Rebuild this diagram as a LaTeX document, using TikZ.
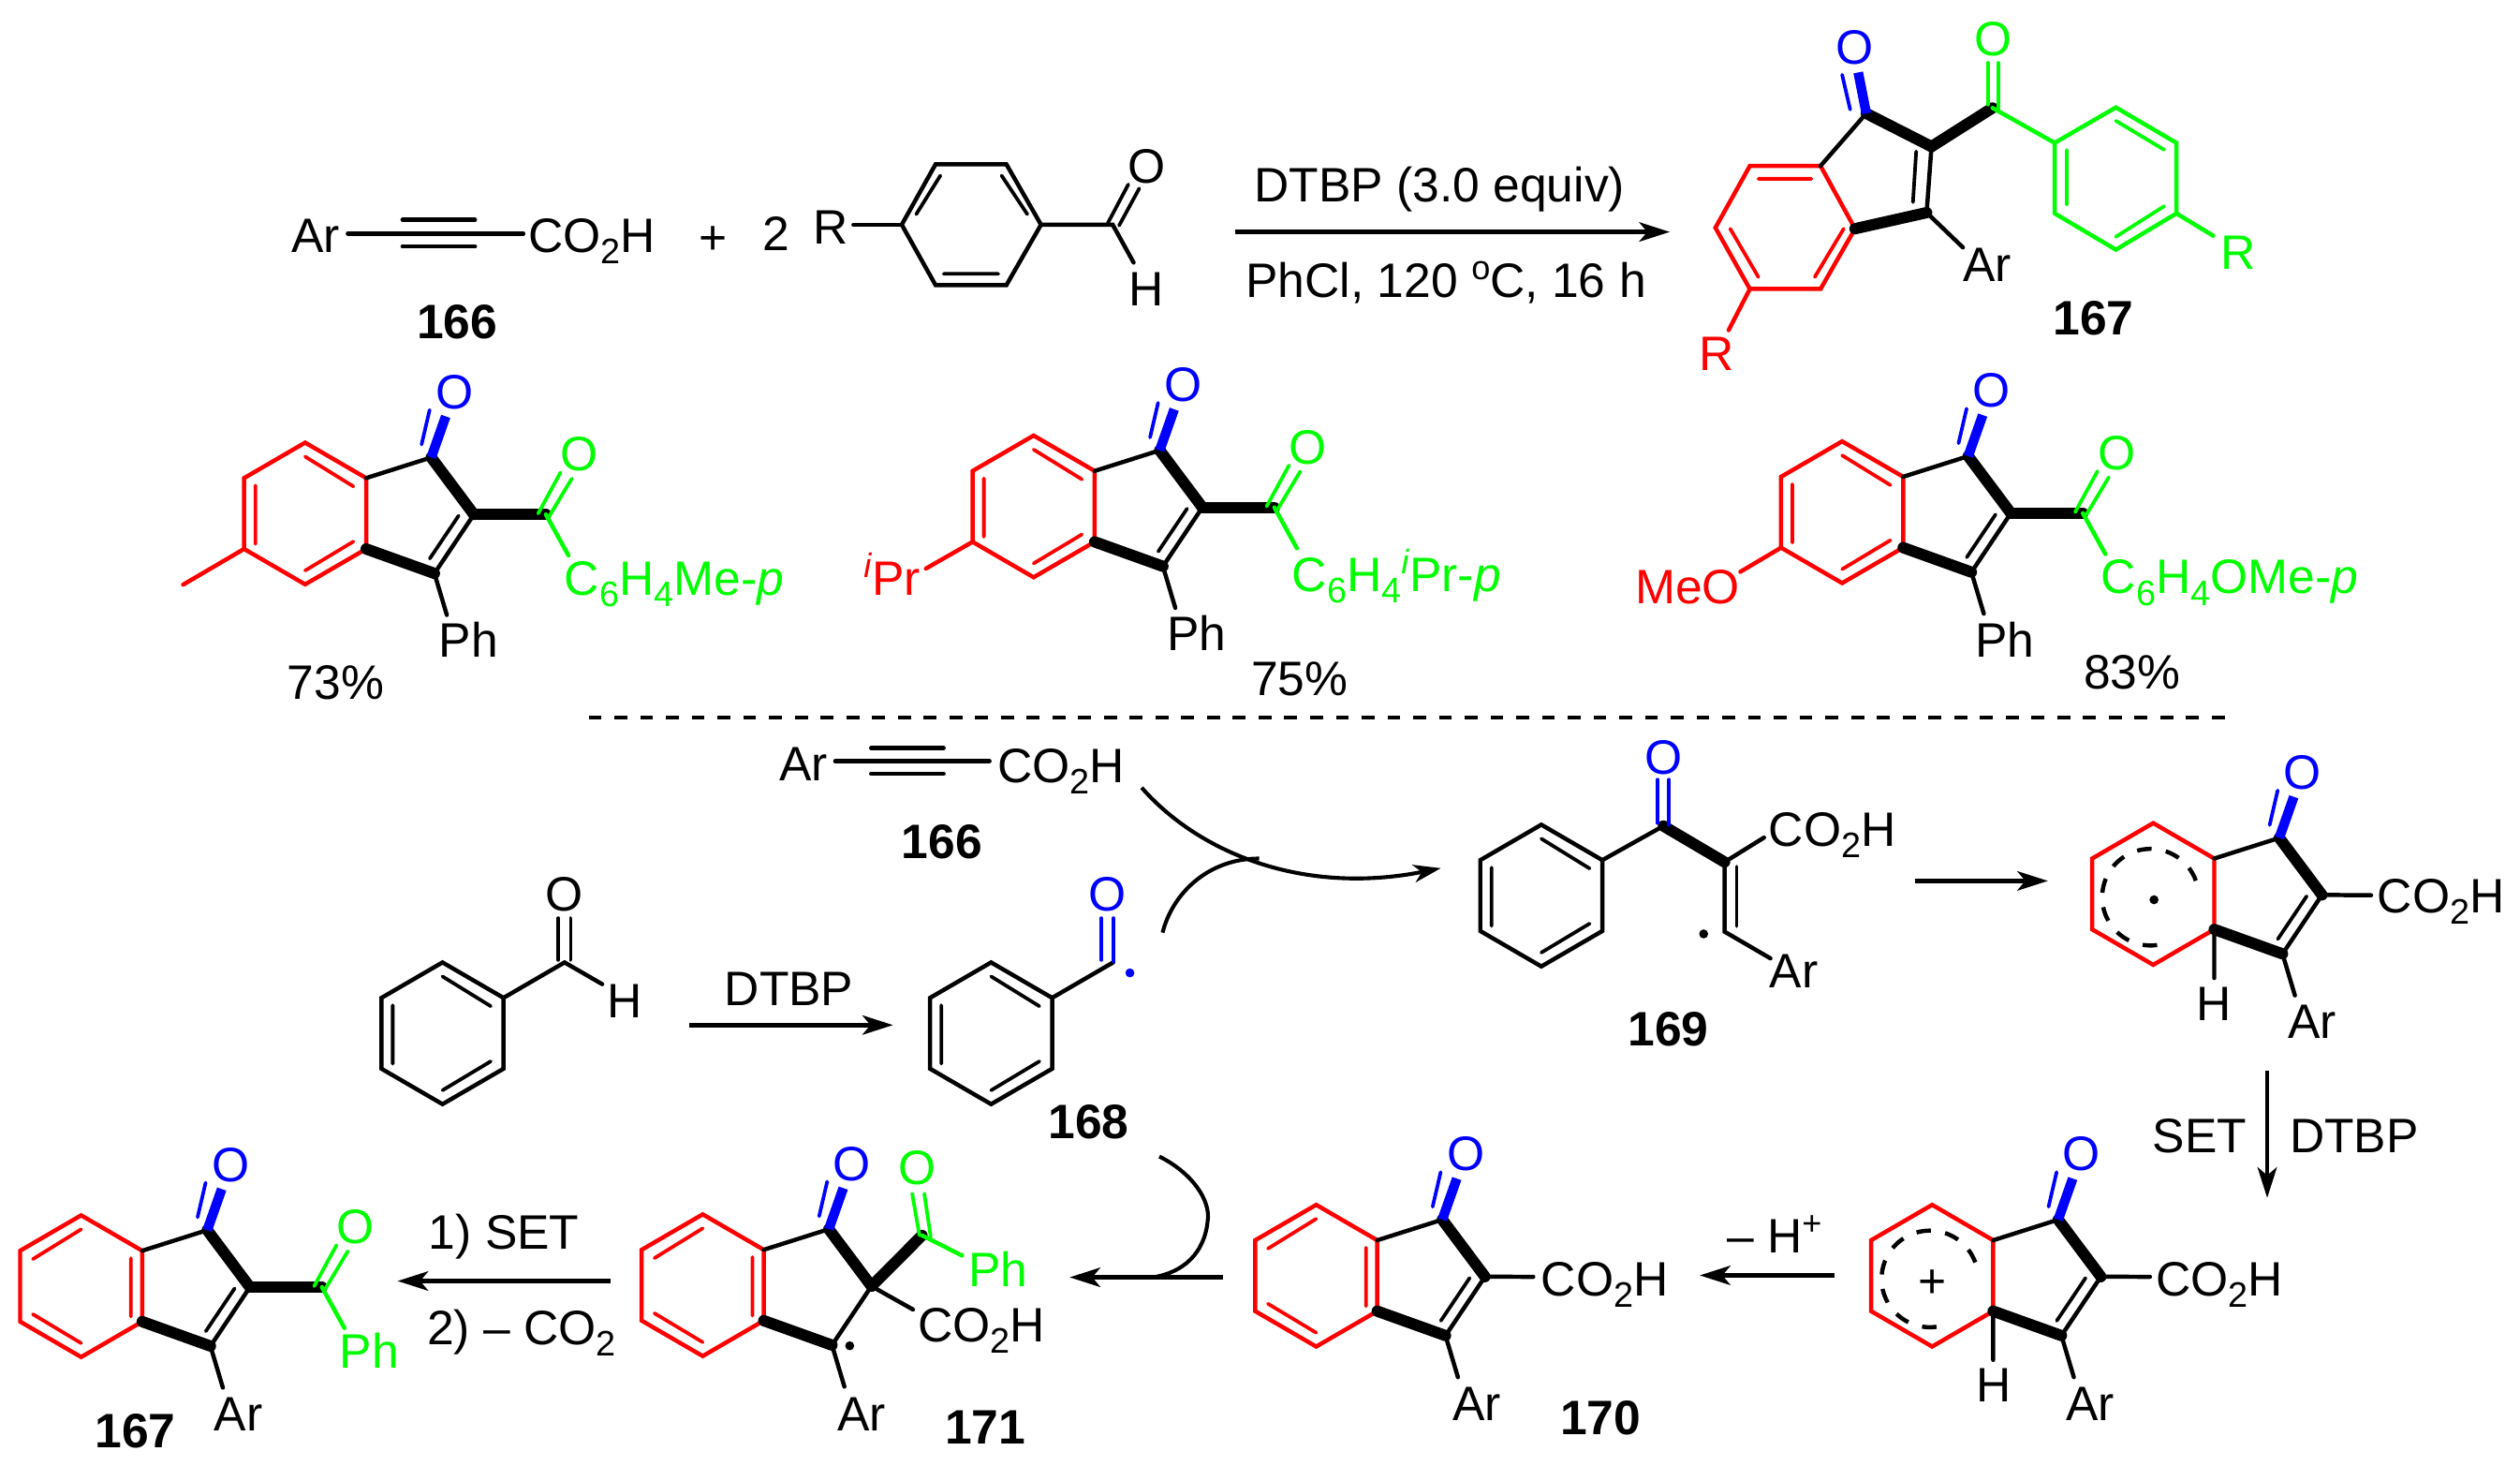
\documentclass[tikz,border=0pt]{standalone}
\usepackage{fontspec}
\setmainfont{Liberation Sans}
\usetikzlibrary{arrows.meta}
\definecolor{chemred}{RGB}{255,0,0}
\definecolor{chemblue}{RGB}{0,0,255}
\definecolor{chemgreen}{RGB}{0,255,0}
\newcommand\lowr[1]{\raisebox{-7pt}{\fontsize{22}{22}\selectfont #1}}
\newcommand\upr[1]{\raisebox{11pt}{\fontsize{21}{21}\selectfont #1}}
\tikzset{
 bd/.style={line width=2.6pt,line cap=round,line join=miter},
 thin bd/.style={bd,line width=2.2pt},
 hv/.style={line width=7pt,line cap=round},
 hvblue/.style={line width=6pt,chemblue},
 rxn/.style={line width=2.6pt,-{Stealth[length=19pt,width=12pt,inset=5pt]}},
 curv/.style={line width=2.4pt},
 lab/.style={inner sep=0pt,outer sep=0pt,anchor=base,font=\fontsize{30}{36}\selectfont},
 labl/.style={lab,anchor=base west},
 cnum/.style={lab,font=\fontsize{30}{36}\selectfont\bfseries},
 dashring/.style={line width=2.6pt,dash pattern=on 9pt off 9pt},
}
% label with centre of capitals at (x,y)
\newcommand\lab[5][]{\node[lab,#1] (#2) at (#3,#4+10.7) {#5};}
\newcommand\labw[5][]{\node[labl,#1] (#2) at (#3,#4+10.7) {#5};}
% hexagon, top vertex at (x,y)
\newcommand\hexring[4]{%
 \begin{scope}[shift={(#2,#3)}]
 \coordinate (#1T) at (0,0);
 \coordinate (#1UR) at (37.9,22);
 \coordinate (#1LR) at (37.9,66);
 \coordinate (#1B) at (0,88);
 \coordinate (#1LL) at (-37.9,66);
 \coordinate (#1UL) at (-37.9,22);
 \draw[bd,#4] (#1T)--(#1UR)--(#1LR)--(#1B)--(#1LL)--(#1UL)--cycle;
 \end{scope}}
\newcommand\dbA[3]{\begin{scope}[shift={(#1,#2)}]
 \draw[thin bd,#3] (-30.9,26.6)--(-30.9,62.9) (0,8.7)--(30,27.2) (0,79.4)--(30,61.4);
 \end{scope}}
\newcommand\dbB[3]{\begin{scope}[shift={(#1,#2)}]
 \draw[thin bd,#3] (30.9,26.6)--(30.9,62.9) (0,8.7)--(-30,27.2) (0,79.4)--(-30,61.4);
 \end{scope}}
% indenone core
\newcommand\ind[3]{%
 \hexring{#1}{#2}{#3}{chemred}
 \begin{scope}[shift={(#2,#3)}]
 \coordinate (#1C1) at (78.3,9.2);
 \coordinate (#1C2) at (104.8,44.6);
 \coordinate (#1C3) at (80.3,81.2);
 \coordinate (#1Oe) at (87.3,-16.3);
 \coordinate (#1Sub) at (88,107);
 \draw[bd] (#1UR)--(#1C1);
 \draw[hv] (#1C1)--(#1C2);
 \draw[hv] (#1LR)--(#1C3);
 \draw[bd] (#1C3)--(#1Sub);
 \draw[hvblue] (#1C1)--(#1Oe);
 \draw[thin bd,chemblue] (77.3,-20.3)--(72.3,1.2);
 \lab[chemblue]{#1O}{92.8}{-31.8}{O}
 \end{scope}}
\newcommand\dblcc[3]{\draw[bd] (#1C2)--(#1C3);
 \begin{scope}[shift={(#2,#3)}]
 \draw[thin bd] (95.3,45.4)--(77.4,72);
 \end{scope}}
% green benzoyl-type substituent on C2
\newcommand\gacyl[3]{%
 \begin{scope}[shift={(#2,#3)}]
 \coordinate (#1Ac) at (149.5,44.6);
 \coordinate (#1Ae) at (163.5,70);
 \draw[hv] (#1C2)--(#1Ac);
 \draw[bd,chemgreen] (#1Ac)--(#1Ae);
 \draw[thin bd,chemgreen] (144.7,44)--(158.6,18.5) (151.7,45.5)--(165.6,22.3);
 \lab[chemgreen]{#1Ao}{170.5}{7}{O}
 \end{scope}}
\newcommand\dashc[4]{\draw[dashring] plot[domain=#3:#4,samples=70,smooth] ({#1+30*cos(\x)},{#2+30*sin(\x)});}
\begin{document}
\begin{tikzpicture}[x=1pt,y=-1pt]
\useasboundingbox (0,0) rectangle (1565,910);
\fill[white] (0,0) rectangle (1565,910);

%% ---- top reaction
\lab{arA}{196}{146}{Ar}
\draw[bd] (216,145)--(325,145);
\draw[bd] (250,136.5)--(295,136.5) (250,153)--(295,153);
\labw{coA}{328}{146}{CO\lowr{2}H}
\lab{plus}{443}{147}{+}
\lab{two}{482}{145}{2}
\lab{rA}{516}{141}{R}
\node[cnum] (n166a) at (284,210) {166};
\draw[bd] (530,139.5)--(560,139.5);
\coordinate (ba1) at (560,139.5); \coordinate (ba2) at (581,102); \coordinate (ba3) at (625,102);
\coordinate (ba4) at (646.5,139.5); \coordinate (ba5) at (625,177); \coordinate (ba6) at (581,177);
\draw[bd] (ba1)--(ba2)--(ba3)--(ba4)--(ba5)--(ba6)--cycle;
\draw[thin bd] (569,133)--(584,109) (622,109)--(638,133) (586,170)--(620,170);
\draw[bd] (ba4)--(691,139.5)--(704,163);
\draw[thin bd] (688,138.5)--(700.7,114.5) (695,140)--(707.5,117);
\lab{oA}{712}{103}{O}
\lab{hA}{712}{179}{H}

\coordinate (a1s) at (767,144); \coordinate (a1e) at (1037,144);
\draw[rxn] (a1s)--(a1e);
\lab{t1}{894}{114.5}{DTBP (3.0 equiv)}
\lab{t2}{898}{174}{PhCl, 120 \upr{o}C, 16 h}

%% product 167 (top)
\coordinate (p1) at (1086.7,103); \coordinate (p2) at (1130.6,103); \coordinate (p3) at (1152,142);
\coordinate (p4) at (1130.6,179.4); \coordinate (p5) at (1086.7,179.4); \coordinate (p6) at (1065.3,141.4);
\draw[bd,chemred] (p1)--(p2)--(p3)--(p4)--(p5)--(p6)--cycle;
\draw[thin bd,chemred] (1092,111)--(1125,111) (1145,142)--(1127,172) (1074.5,142)--(1092,172);
\coordinate (pC1) at (1159,70.4); \coordinate (pC2) at (1199.5,91); \coordinate (pC3) at (1196.5,132);
\draw[bd] (p2)--(pC1);
\draw[hv] (pC1)--(pC2);
\draw[hv] (p3)--(pC3);
\draw[bd] (pC2)--(pC3);
\draw[thin bd] (1190,94)--(1188,125.5);
\draw[hvblue] (pC1)--(1154,45);
\draw[thin bd,chemblue] (1149,68)--(1144,46.4);
\lab[chemblue]{pO}{1152}{29}{O}
\coordinate (pAc) at (1237.4,67);
\draw[hv] (pC2)--(pAc);
\draw[thin bd,chemgreen] (1234.5,65)--(1234.5,39) (1241,68)--(1241,39);
\lab[chemgreen]{pO2}{1238}{24}{O}
\coordinate (g1) at (1276,88.7); \coordinate (g2) at (1314,66.7); \coordinate (g3) at (1351.6,88.7);
\coordinate (g4) at (1351.6,132.5); \coordinate (g5) at (1314,155); \coordinate (g6) at (1276,132.5);
\draw[bd,chemgreen] (g1)--(g2)--(g3)--(g4)--(g5)--(g6)--cycle;
\draw[bd,chemgreen] (pAc)--(g1);
\draw[thin bd,chemgreen] (1283.5,93)--(1283.5,127) (1314,75)--(1344,93) (1314,147)--(1344,128);
\draw[bd,chemgreen] (g4)--(1374.5,146.4);
\lab[chemgreen]{pR}{1390}{156.5}{R}
\draw[bd] (pC3)--(1219,153.6);
\lab{pAr}{1234}{163.8}{Ar}
\draw[bd,chemred] (p5)--(1073.5,205);
\lab[chemred]{pRr}{1066}{219.4}{R}
\node[cnum] (n167a) at (1300,207.7) {167};

%% examples
\ind{x}{189.5}{274.8}\dbA{189.5}{274.8}{chemred}\dblcc{x}{189.5}{274.8}\gacyl{x}{189.5}{274.8}
\draw[bd,chemred] (xLL)--(113.7,363);
\labw[chemgreen]{xt}{350.6}{359}{C\lowr{6}H\lowr{4}Me-\textit{p}}
\lab{xPh}{291}{397}{Ph}
\lab{xy}{208.5}{423.5}{73\%}

\ind{y}{641.9}{270.4}\dbA{641.9}{270.4}{chemred}\dblcc{y}{641.9}{270.4}\gacyl{y}{641.9}{270.4}
\draw[bd,chemred] (yLL)--(575,353);
\lab[chemred]{yip}{554}{359}{\upr{\textit{i}}Pr}
\labw[chemgreen]{yt}{802.5}{356.5}{C\lowr{6}H\lowr{4}\upr{\textit{i}}Pr-\textit{p}}
\lab{yPh}{743}{393}{Ph}
\lab{yy}{807}{421}{75\%}

\ind{z}{1144}{274}\dbA{1144}{274}{chemred}\dblcc{z}{1144}{274}\gacyl{z}{1144}{274}
\draw[bd,chemred] (zLL)--(1080.8,355);
\lab[chemred]{zm}{1048}{364}{MeO}
\labw[chemgreen]{zt}{1305}{358}{C\lowr{6}H\lowr{4}OMe-\textit{p}}
\lab{zPh}{1245}{397}{Ph}
\lab{zy}{1324}{417}{83\%}

%% dashed separator
\coordinate (ds) at (365.6,445.5); \coordinate (de) at (1387,445.5);
\draw[line width=2.8pt,dash pattern=on 8pt off 8pt] (ds)--(de);

%% ---- mechanism
\lab{arB}{499}{474}{Ar}
\draw[bd] (518.7,472.6)--(614.5,472.6);
\draw[bd] (541,464.4)--(586,464.4) (541,480.4)--(586,480.4);
\labw{coB}{619.5}{475}{CO\lowr{2}H}
\node[cnum] (n166b) at (585,533) {166};

\coordinate (c1s) at (709,489); \coordinate (c1e) at (894.8,539);
\draw[curv,-{Stealth[length=17pt,width=11pt,inset=5pt]}] (c1s) .. controls (745,530) and (810,556) .. (c1e);
\coordinate (c2s) at (722,579); \coordinate (c2e) at (782,533);
\draw[curv] (c2s) .. controls (728,555) and (750,533) .. (c2e);

% benzaldehyde
\hexring{b}{274.8}{597.5}{black}\dbA{274.8}{597.5}{black}
\coordinate (bC) at (350.6,597.5);
\draw[bd] (bUR)--(bC)--(374,611);
\draw[thin bd] (346.8,596)--(346.8,570) (354.4,596)--(354.4,570);
\lab{bO}{350.6}{555}{O}
\lab{bH}{388}{621.2}{H}
\coordinate (a2s) at (428,636.4); \coordinate (a2e) at (554.6,636.4);
\draw[rxn] (a2s)--(a2e);
\lab{t3}{490}{613.4}{DTBP}

% 168
\hexring{c}{615.5}{597.5}{black}\dbA{615.5}{597.5}{black}
\coordinate (cC) at (691.3,597.5);
\draw[bd] (cUR)--(cC);
\draw[thin bd,chemblue] (684,570)--(684,596) (691.5,570)--(691.5,597);
\lab[chemblue]{cO}{687.5}{555}{O}
\fill[chemblue] (701.7,604) circle[radius=2.8pt];
\node[cnum] (n168) at (676,707) {168};

\coordinate (c3s) at (720,718); \coordinate (c3m) at (750,758); \coordinate (c3e) at (716,793);
\draw[curv] (c3s) .. controls (740,728) and (752,745) .. (c3m) .. controls (748,778) and (735,790) .. (c3e);
\coordinate (a3s) at (759.6,793); \coordinate (a3e) at (664.3,793);
\draw[rxn] (a3s)--(a3e);

% 169
\hexring{d}{957.2}{512}{black}\dbA{957.2}{512}{black}
\coordinate (dC) at (1033,512.8); \coordinate (dV1) at (1071,535.2); \coordinate (dV2) at (1071,578.4);
\draw[bd] (dUR)--(dC);
\draw[hv] (dC)--(dV1);
\draw[bd] (dV1)--(dV2)--(1099.5,595);
\draw[bd] (dV1)--(1095.5,520);
\draw[thin bd] (1078.5,538)--(1078.5,575);
\draw[thin bd,chemblue] (1029.3,484)--(1029.3,511) (1036.5,484)--(1036.5,512);
\lab[chemblue]{dO}{1033}{470.2}{O}
\labw{dco}{1098.5}{514.8}{CO\lowr{2}H}
\fill (1058,579.8) circle[radius=2.8pt];
\lab{dAr}{1114}{602.3}{Ar}
\node[cnum] (n169) at (1036,649.5) {169};
\coordinate (a4s) at (1189.4,546.9); \coordinate (a4e) at (1271.8,546.9);
\draw[rxn] (a4s)--(a4e);

% radical intermediate
\ind{e}{1337.2}{511}\dblcc{e}{1337.2}{511}
\draw[bd] (eC2)--(1472.5,555.8);
\labw{eco}{1476.5}{556.2}{CO\lowr{2}H}
\draw[bd] (eLR)--(1375.1,607.2);
\lab{eH}{1375}{622.7}{H}
\lab{eAr}{1436}{633.8}{Ar}
\dashc{1335.5}{557}{-20}{-292}
\fill (1337.7,558.6) circle[radius=2.8pt];

\coordinate (a5s) at (1408,665); \coordinate (a5e) at (1408,743.7);
\draw[rxn] (a5s)--(a5e);
\lab{t4}{1366}{705}{SET}
\lab{t5}{1462}{705}{DTBP}

% cation intermediate
\ind{f}{1199.9}{748}\dblcc{f}{1199.9}{748}
\draw[bd] (fC2)--(1335.2,792.7);
\labw{fco}{1339}{794.1}{CO\lowr{2}H}
\draw[bd] (fLR)--(1237.8,844.3);
\lab{fH}{1238}{859.4}{H}
\lab{fAr}{1298}{871}{Ar}
\dashc{1198.5}{794}{-20}{-292}
\lab{fplus}{1200}{795}{+}

\coordinate (a6s) at (1139.5,791.8); \coordinate (a6e) at (1055.6,791.8);
\draw[rxn] (a6s)--(a6e);
\lab{t6}{1102}{767}{\textendash{} H\upr{+}}

% 170
\ind{g}{817.4}{748}\dbB{817.4}{748}{chemred}\dblcc{g}{817.4}{748}
\draw[bd] (gC2)--(952.2,792.7);
\labw{gco}{957.2}{794}{CO\lowr{2}H}
\lab{gAr}{917}{871}{Ar}
\node[cnum] (n170) at (994,890.5) {170};

% 171
\ind{h}{436.4}{753.9}\dbB{436.4}{753.9}{chemred}
\draw[bd] (hC2)--(hC3);
\coordinate (hAc) at (572.6,767);
\draw[hv] (hC2)--(hAc);
\draw[thin bd,chemgreen] (566.5,741)--(571,767) (574,741)--(578,768);
\lab[chemgreen]{hAo}{569.5}{724.7}{O}
\draw[bd,chemgreen] (hAc)--(597.5,779.5);
\lab[chemgreen]{hPh}{620}{788}{Ph}
\draw[bd] (hC2)--(567,813);
\labw{hco}{570}{822.4}{CO\lowr{2}H}
\fill (527.7,835.5) circle[radius=2.8pt];
\lab{hAr}{535}{877.8}{Ar}
\node[cnum] (n171) at (612,896.5) {171};

\coordinate (a7s) at (379,795.3); \coordinate (a7e) at (246.9,795.3);
\draw[rxn] (a7s)--(a7e);
\lab{t7}{313}{765}{1) SET}
\lab{t8}{324}{824}{2) \textendash{} CO\lowr{2}}

% 167 (bottom)
\ind{i}{50.4}{754.5}\dbB{50.4}{754.5}{chemred}\dblcc{i}{50.4}{754.5}\gacyl{i}{50.4}{754.5}
\lab[chemgreen]{iPh}{229.4}{838.4}{Ph}
\lab{iAr}{148}{877.8}{Ar}
\node[cnum] (n167b) at (84,898.7) {167};
\end{tikzpicture}
\end{document}
